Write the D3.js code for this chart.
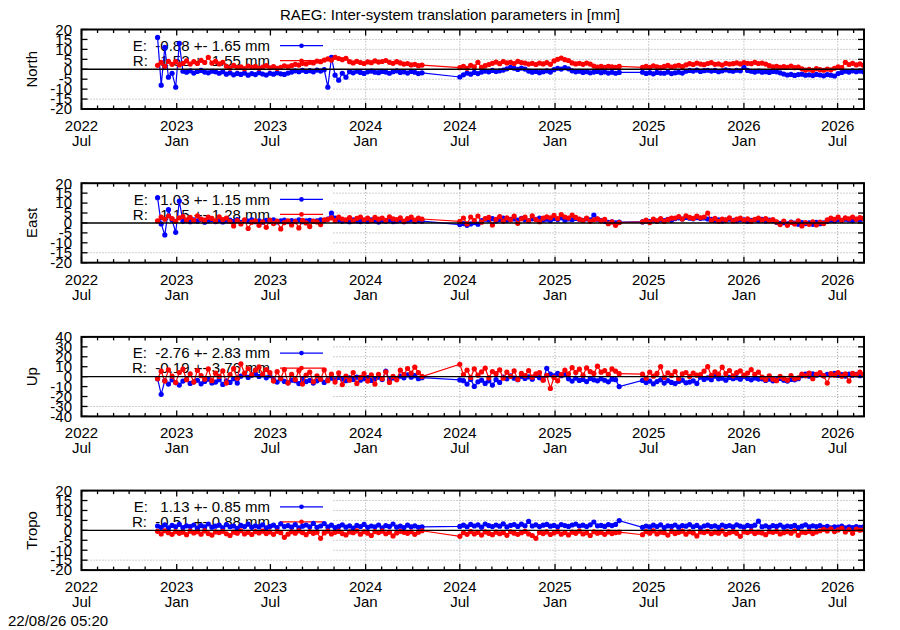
<!DOCTYPE html>
<html>
<head>
<meta charset="utf-8">
<script src="https://cdn.jsdelivr.net/npm/d3@7"></script>
<style>
body { margin: 0; background: white; }
text { font-family: "Liberation Sans", Arial, sans-serif; font-size: 15px; fill: black; }
</style>
</head>
<body>
<script>
const largeur = 900;
const hauteur = 630;

const gauche = 81.5;
const droite = 864;
const hautPanneau = 79.5;
const hautsPanneaux = [29.5, 183.2, 336.9, 490.6];
const finCle = 332;

const titre = "RAEG: Inter-system translation parameters in [mm]";
const horodatage = "22/08/26 05:20";

const composantes = ["North", "East", "Up", "Tropo"];
const bornesY = [20, 20, 40, 20];

const legendesE = ["E:  -0.88 +- 1.65 mm", "E:   1.03 +- 1.15 mm", "E:  -2.76 +- 2.83 mm", "E:   1.13 +- 0.85 mm"];
const legendesR = ["R:   1.52 +- 1.55 mm", "R:   1.15 +- 1.28 mm", "R:  -0.19 +- 3.76 mm", "R:  -0.51 +- 0.88 mm"];

const debutAxe = "2022-07-01";
const finAxe = "2026-08-21";
const datesGraduations = ["2022-07-01", "2023-01-01", "2023-07-01", "2024-01-01", "2024-07-01", "2025-01-01", "2025-07-01", "2026-01-01", "2026-07-01"];
const anneesGraduations = ["2022", "2023", "2023", "2024", "2024", "2025", "2025", "2026", "2026"];
const moisGraduations = ["Jul", "Jan", "Jul", "Jan", "Jul", "Jan", "Jul", "Jan", "Jul"];

// trois periodes de mesures hebdomadaires
const debutsSegments = ["2022-11-25", "2024-07-01", "2025-06-19"];
const semainesSegments = [74, 45, 62];

const northE = [
16, -8, 11, -4, -2, -9, 13, -1,
-1.5, -0.8, -1.9, -1.1, -0.6, -1.4, -1.8, -1.0, -1.3, -2.0, -1.2,
-2.5, -1.8, -2.8, -2.1, -2.6, -1.9, -3.0, -2.2, -2.7, -1.7, -2.4, -2.9, -2.0, -2.5, -1.8, -2.3, -2.6, -1.9,
-1.4, -0.8, -1.2, -0.5, -1.1, -0.7, -1.3, -0.4, -0.9, -0.2,
-9, 6, -3, -5.5, -2, -4,
-1.2, -1.8, -1.0, -1.6, -2.1, -1.3, -0.9, -1.5, -1.7, -1.1, -1.4, -2.0, -1.2, -0.8, -1.6, -1.3, -1.9, -1.1, -1.5, -2.2, -1.8,
-3.9, -2.8, -1.9, -2.5, -1.6, -2.2, -1.4,
-0.9, -1.3, -0.6, -1.1, -0.8, -0.4,
0.2, 1.0, 0.5, -0.1, 0.6, 0.1,
-0.9, -1.5, -1.1, -1.7, -1.2, -0.8, -1.4,
-0.2, 0.5, 0.1, 0.8, 0.2,
-0.8, -1.3, -1.0, -1.6, -1.2, -1.8, -1.4, -1.1, -1.7, -1.3, -1.9, -1.5, -2.0, -1.6,
-1.5, -2.1, -1.7, -2.3, -1.6, -1.9, -2.0, -1.4, -2.2, -1.8, -1.5, -1.9,
-1.0, -0.6, -0.9, -0.4, -1.1, -0.7, -0.5, -0.9, -0.6, -1.2, -0.8, -0.3, -0.7, -1.0, -0.5, -0.8, 1.0, -0.6,
-1.0, -1.4, -0.9, -1.5, -1.2, -1.6, -1.1, -1.3, -1.8,
-2.4, -2.9, -2.6, -3.1, -2.7, -2.5, -3.0, -2.8, -3.2, -2.6, -2.9, -3.3, -2.7, -3.0, -3.4,
-2.2, -1.6, -1.0, -1.4, -0.8, -1.2, -0.9, -1.3
];

const northR = [
2.0, 3.5, 1.5, 4.0, 2.5, 3.8, 2.2,
3.0, 4.2, 2.6, 3.8, 2.9, 4.5, 3.4, 6.0, 3.1, 4.0, 2.7, 3.5,
1.5, 0.6, 1.9, 0.8, 1.2, 0.3, 1.6, 0.9, 1.4, 0.5, 1.1, 1.8, 0.7, 1.3, 0.4, 1.0, 1.7, 1.2,
1.8, 2.5, 2.1, 3.0, 2.7, 3.5, 3.2, 4.1, 3.8, 4.6,
5.2, 4.6, 6.0, 5.4, 4.8, 5.5,
3.8, 3.2, 4.0, 3.4, 2.9, 3.7, 3.3, 4.2, 3.6, 3.9, 4.4, 3.5, 3.0, 3.8, 3.2, 2.6, 2.9, 2.2, 2.5, 1.8, 2.1,
0.8, 1.5, 0.5, 2.0, 1.2, 3.5, 0.9, 1.8, 2.4,
3.0, 3.6, 2.8, 3.9, 3.2, 3.5, 2.9, 4.0, 3.4, 3.1,
2.6, 3.0, 2.4, 3.1, 2.7, 3.3, 2.5,
4.2, 5.0, 5.6, 4.8, 4.4,
3.2, 2.7, 3.0, 2.5, 3.1, 2.6,
1.6, 1.1, 1.4, 0.9, 1.5, 1.2, 1.0, 1.4,
0.9, 1.5, 1.0, 1.7, 1.2, 0.8, 1.4, 1.9, 1.1, 1.6, 2.0, 1.3,
2.2, 2.8, 2.4, 3.1, 2.6, 2.3, 2.9, 3.3, 2.5, 2.7, 2.1, 3.0, 2.6, 2.8,
3.2, 2.7, 3.4, 3.0, 2.8, 3.5, 2.9, 3.1, 2.6,
1.8, 1.2, 1.5, 0.9, 1.3, 1.0, 1.6, 0.8, 1.1,
0.2, -0.4, 0.0, -0.6, 0.3, -0.2, -0.5, 0.1, -0.3,
0.5, 1.2, 0.8, 3.5, 2.4, 3.0, 2.2, 2.7, 2.0
];

const eastE = [
12.7, -0.5, -6, 6.7, 1.5, -4.7, 11, 0.8,
1.2, 0.6, 1.5, 0.9, 1.8, 0.4, 1.1, 1.6, 0.7, 1.3, 0.5, 1.0, 1.4, 0.8, 1.7, 0.3, 1.2, 0.9, 1.5, 0.6,
1.1, 0.4, 1.3, 0.8, 1.6, 0.5, 1.0, 1.4, 0.7, 1.2, 0.9, 1.5, 0.6, 1.1, 1.3, 0.8, 1.0, 1.6, 1.2,
2.0, 5.0, 2.5,
1.4, 0.9, 1.2, 0.6, 1.5, 1.0, 0.7, 1.3, 0.8, 1.6, 1.1, 0.5, 1.2, 0.9, 1.4, 0.7, 1.0, 1.3, 0.6, 1.1, 1.5, 0.8, 1.2, 0.9,
-0.8, -0.3, -1.2, -0.5, 0.2, -0.6,
1.2, 1.9, 1.5, 2.2, 1.0, 1.7, 2.4, 1.3, 1.8, 2.0, 1.4, 2.3, 1.6, 1.1, 2.1, 1.8, 2.5, 1.5, 1.9, 1.2,
2.2, 1.7, 2.6, 1.4, 2.0, 1.6, 2.3, 1.8, 1.3, 2.1, 1.5, 4.0, 1.9, 1.2, 0.8, 0.3, 0.6, 0.1, 0.4,
0.5, 1.0, 0.7, 1.4, 0.9, 1.6, 1.2, 1.8, 1.3,
2.2, 2.6, 2.0, 2.8, 2.4, 2.1, 2.7, 2.3, 2.5, 2.0,
1.8, 1.2, 1.6, 1.0, 1.4, 1.9, 1.3, 1.1, 1.7, 1.5, 0.9, 1.3, 1.6, 1.2, 1.8, 1.0, 1.4, 1.1,
0.3, -0.2, 0.1, -0.5, 0.4, -0.1, -0.6, 0.2, -0.3, 0.0, -0.7, 0.3, -0.4, 0.1,
0.8, 1.4, 1.1, 1.7, 1.3, 1.9, 1.5, 1.2, 1.8, 1.6, 2.0
];

const eastR = [
1.0, 3.0, 1.8, 3.5, 2.2, 0.8, 2.6, 3.2, 1.5, 2.8, 1.2, 3.6, 2.0, 1.4, 2.9, 2.3, 1.1, 3.1, 1.7, 2.5,
0.8, -1.5, 1.2, -0.5, 1.6, -2.8, 0.4, 1.0, -1.2, 0.6, -2.2, 1.4, -0.3, 0.9, -3.0, 0.2, 1.1, -1.0, 0.7, -2.5,
1.3, 0.0, -1.8, 0.9, 0.5, -0.8, 1.5,
1.8, 2.6, 1.2, 2.9, 2.0, 1.5, 2.7, 1.0, 2.3, 3.0, 1.6, 2.4, 1.1, 2.8, 1.9, 2.5, 1.3, 3.1, 2.1, 1.7,
2.6, 0.9, 2.2, 2.9, 1.4, 2.4, 2.0,
0.8, 2.5, -0.5, 3.0, 1.2, 3.5, 0.4, 2.2, 2.8, -1.0, 1.8, 3.2, 0.9, 2.6, 1.5, 3.4, -0.2, 2.1, 2.9, 1.1,
3.6, 1.7, 0.6, 2.4, 3.1,
2.6, 3.8, 2.2, 4.2, 3.0, 2.5, 3.9, 2.8,
1.9, 1.2, 2.4, 0.8, 1.6, 2.1, 1.0, 1.8,
-0.4, 0.5, -1.2, 0.2,
0.6, 1.4, 0.2, 1.9, 1.0, 2.2, 0.8, 1.7, 2.4,
2.5, 3.2, 2.0, 3.6, 2.8, 2.3, 3.4, 2.6, 3.0,
5.0,
1.2, 2.3, 0.8, 2.0, 1.5, 2.6, 1.0, 1.9, 2.4, 1.3, 2.1, 0.9, 1.8, 2.5, 1.4, 2.2, 1.1, 1.7,
0.5, -0.8, 0.9, -1.2, 0.3, -0.5, 1.0, -1.5, 0.2, -0.7, 0.6, -1.0, 0.4, -0.3,
1.5, 2.4, 1.8, 2.9, 1.3, 2.6, 2.1, 3.0, 1.9, 2.7, 2.3
];

const upE = [
-2, -17.8,
-4.0, -7.5, -3.2, -6.0, -8.5, -4.5, -2.8, -6.8, -5.2, -3.6, -7.2, -4.8, -2.5, -6.3, -5.5, -3.0, -7.8, -4.2, -5.8, -2.2, -6.5,
0.5, 2.2, -0.8, 1.5, 3.0, 0.2, 1.8, -1.2, 0.9,
-3.0, -5.5, -2.2, -4.8, -6.2, -3.5, -4.0, -7.0, -2.8, -5.0, -3.8, -6.5, -4.2, -2.5, -5.8, -3.2,
-1.5, -3.2, -0.8, -2.5, -4.0, -1.2, -2.8, -0.5, -3.5, -2.0, -1.0, -3.8, -2.2, -0.6, -2.9, 5.7, -3.0, -1.3, -2.4,
0.5, -1.2, 1.8, -0.5, 1.0, -2.0, -1.0,
-3.3,
-4.0, -7.5, -2.8, -9.8, -5.2, -3.5, -6.8, -4.2, -8.5, -3.0, -5.8,
-0.5, -2.2, 0.8, -1.5, -3.0, 0.2, -1.8, -0.2, -2.5, 1.2, -1.0, -3.2, 8.4,
2.5, 0.8, 3.2, 1.0, 2.0,
-2.2, -4.5, -1.5, -3.8, -2.8, -5.0, -1.8, -3.2, -4.2, -2.0, -3.6, -5.2, -2.5, -3.0, -10.0,
-3.8, -6.0, -4.5, -7.2, -5.0, -3.2, -6.5, -4.0, -5.8, -7.0, -4.8, -3.5, -6.2, -5.5, -4.2, -6.8,
-0.5, -2.8, -1.2, -3.0, 0.5, -2.2, -1.5, -3.5, -0.8, -2.0, -1.0, -2.6, 0.2, -1.8, -3.2, -1.4, -2.4,
-2.2, -3.8, -2.5, -4.2, -3.0, -1.8, -3.5, -4.5, -2.8, -3.2, -2.0,
1.0, 2.5, 0.5, 2.8, 1.5, 3.0, 0.8, 2.2, 1.8, 3.2, 1.2, 2.0, 0.6, 2.6, 1.4, 2.4, 1.0, 1.8
];

const upR = [
-2.0, 5.5, -4.5, 6.8, 0.5, -6.0, 4.2, 7.5, -3.0, 2.8, -5.5, 6.2, 1.0, -2.5, 7.8, -4.0, 3.5, 0.2, 5.8, -6.5,
2.0, 8.0, -1.5,
13.0, 3.5, 8.2, 1.8, 6.5, 9.8, 2.5, 7.0, 4.0,
-4.5, 5.0, -1.8, 7.2, -6.5, 2.2, -3.0, 6.0, -7.5, 1.5, 4.5, -5.2, 0.8, -2.5, 6.8, -4.0,
2.5, -5.5, 3.8, -8.0, 0.5, -3.5, 4.2, -6.8, -0.8, 3.0, -4.5, 1.8, -7.5, 2.2, -2.0, 4.8, -5.8, 0.2, -3.2,
6.5, 2.0, 8.2, 3.5, 9.5, 4.0, 0.2,
12.5,
2.0, 6.5, -0.8, 7.8, 1.5, 4.8, 8.5, -1.2, 5.2, 3.0, 6.8,
-1.5, 4.5, 0.2, 5.8, -2.8, 3.2, 1.0, 6.0, -0.5, 2.8, 4.0,
-3.5, 1.2, -11.8, -0.8, -4.2, 2.0,
6.5, 2.8, 9.0, 4.2, 7.5, 1.5, 8.8, 5.0, 3.2, 10.5, 4.5, 6.0, 2.2, 7.8, 5.5, 3.0,
2.5, -1.5, 4.5, 0.5, 3.2, 10.0, -0.8, 3.8, 1.2, 5.0, -2.0, 2.8, 4.2, 0.2, 3.5, 1.5,
2.0, 5.5, 10.0, 1.2, 4.8, 2.5, 9.5, 3.0, 6.2, 0.8, 4.0, 5.8, 1.5, 3.6, 7.0, 2.2, 4.5,
-0.5, -3.0, 0.8, -2.5, -4.0, 0.2, -1.8, -3.5, 1.0, -2.2, -1.2,
2.5, 0.8, 3.5, -2.0, 2.2, 4.0, 1.0, -6.5, 3.0, 1.5, 4.2, 0.5, 2.8, -4.5, 3.2, 1.8, 4.5, 2.0
];

const tropoE = [
2.2, 1.5, 2.8, 1.2, 2.5, 1.8, 3.0, 1.4, 2.3, 1.9,
2.7, 1.1, 2.4, 1.7, 3.2, 1.6, 2.1, 2.6, 1.3, 2.9,
1.8, 2.2, 1.0, 2.5, 1.9, 3.1, 1.5, 2.3, 1.7, 2.8,
1.2, 2.0, 2.6, 1.4, 3.3, 1.9, 2.4, 1.6, 2.9, 1.3,
2.1, 2.7, 1.8, 3.5, 1.5, 2.2, 3.4, 1.7, 2.6, 1.4,
2.0, 2.8, 1.6, 2.3, 1.1, 2.5, 1.9, 3.0, 1.5, 2.2,
1.8, 2.7, 1.3, 2.4, 1.9, 3.2, 1.6, 2.1, 1.4, 2.6,
1.8, 2.3, 1.5, 1.7,
2.0, 2.6, 1.8, 3.0, 2.2, 2.8, 1.6, 3.2, 2.4, 1.9,
2.7, 2.1, 3.3, 1.7, 2.5, 2.9, 2.0, 3.1, 2.3, 4.5,
2.2, 2.8, 1.9, 2.6, 3.0, 2.1, 2.5, 1.8, 2.9, 2.4,
2.0, 2.7, 3.2, 2.2, 2.6, 1.9, 2.8, 4.2, 2.3, 2.5,
2.0, 2.9, 2.4, 3.0, 4.9,
1.5, 2.2, 1.7, 2.6, 1.9, 2.8, 1.4, 2.3, 2.0, 2.7,
1.6, 2.4, 2.1, 2.9, 1.8, 2.5, 1.3, 2.2, 2.6, 1.9,
2.3, 1.5, 2.7, 2.0, 2.4, 1.7, 2.8, 2.1, 1.6, 2.5,
2.0, 2.6, 4.6, 1.8, 2.3, 1.5, 2.4, 2.0, 2.7, 1.6,
2.2, 1.9, 2.5, 1.4, 2.1, 2.8, 1.7, 2.3, 1.9, 2.4,
1.5, 2.0, 1.3, 1.8, 1.6, 2.1, 1.2, 1.7, 1.4, 1.9,
1.5, 1.8
];

const tropoR = [
-0.5, -1.8, -0.2, -1.2, -2.0, -0.6, -1.5, -0.9, -2.2, -0.4,
-1.3, -0.7, -1.9, -0.3, -1.6, -2.4, -0.8, -1.1, -0.5, -1.7,
-2.6, -0.9, -1.4, -0.2, -1.8, -1.0, -2.1, -0.6, -1.3, -0.4,
-1.6, -0.8, -2.0, -0.5, -1.2, -3.5, -1.9, -0.7, -1.4, -0.3,
-1.1, -2.2, -0.6, -1.5, -0.9, -4.0, -1.3, -0.4, -1.8, -1.0,
-0.5, -1.6, -2.3, -0.8, -1.2, -0.3, -1.9, -0.7, -1.4, -2.6,
-0.6, -1.1, -0.4, -1.7, -0.9, -2.8, -1.3, -0.5, -1.0, -1.5,
-0.7, -2.0, -0.9, -0.2,
-3.0, -1.2, -2.0, -0.6, -1.8, -1.0, -2.4, -0.8, -1.5, -2.2,
-0.9, -1.7, -1.1, -2.5, -0.7, -1.4, -2.0, -1.2, -0.5, -1.8,
-2.6, -4.0, -1.0, -1.6, -0.8, -2.1, -1.3, -0.6, -1.9, -1.1,
-2.3, -0.9, -1.5, -0.4, -1.8, -1.2, -2.6, -0.7, -1.4, -1.0,
-2.0, -0.8, -1.6, -1.1, -0.9,
-2.2, -0.6, -1.4, -0.3, -1.8, -0.9, -1.2, -2.4, -0.5, -1.6,
-1.0, -0.4, -1.9, -0.7, -1.3, -2.8, -0.8, -1.1, -0.5, -1.7,
-0.9, -1.4, -0.3, -2.0, -1.2, -0.6, -1.5, -3.0, -0.8, -1.1,
-0.4, -1.6, -0.9, -1.3, -2.2, -0.7, -1.0, -0.5, -1.8, -1.2,
-0.6, -1.4, -0.3, -2.5, -0.9, -1.1, -0.5, -1.6, -0.8, -0.2,
0.5, -0.3, 0.8, -0.6, 0.2, 1.0, -0.8, 0.4, -1.5, 0.6,
0.1, 0.3
];

const seriesE = [northE, eastE, upE, tropoE];
const seriesR = [northR, eastR, upR, tropoR];

const bleu = "#0000ff";
const rouge = "#ff0000";

const lireDate = d3.timeParse("%Y-%m-%d");

const dates = [];
debutsSegments.forEach(function(debut, s)
{
    const d0 = lireDate(debut);
    for(let i = 0; i < semainesSegments[s]; i++)
    {
        dates.push(d3.timeDay.offset(d0, 7 * i));
    }
});

const svg = d3
.select("body")
.append("svg")
.attr("width", largeur)
.attr("height", hauteur)
.style("background", "white");

const x = d3.scaleTime()
.domain([lireDate(debutAxe), lireDate(finAxe)])
.range([gauche, droite]);

const graduations = datesGraduations.map(lireDate);
const graduationsMineures = d3.timeMonth.range(lireDate(debutAxe), lireDate(finAxe));

svg.append("text")
.attr("x", largeur / 2)
.attr("y", 20)
.attr("text-anchor", "middle")
.text(titre);

svg.append("text")
.attr("x", 8)
.attr("y", 626)
.text(horodatage);

composantes.forEach(function(nom, p)
{
    dessinerPanneau(nom, p);
});

function dessinerPanneau(nom, p)
{
    const haut = hautsPanneaux[p];
    const bas = haut + hautPanneau;
    const borne = bornesY[p];

    const y = d3.scaleLinear()
    .domain([-borne, borne])
    .range([bas, haut]);

    const valeursY = y.ticks(8);

    const g = svg.append("g");

    g.append("clipPath")
    .attr("id", "clip" + p)
    .append("rect")
    .attr("x", gauche)
    .attr("y", haut)
    .attr("width", droite - gauche)
    .attr("height", hautPanneau);

    // grille pointillee
    g.selectAll(".grilleY")
    .data(valeursY.filter(function(v) { return Math.abs(v) != borne && v != 0; }))
    .enter()
    .append("line")
    .attr("x1", gauche)
    .attr("x2", droite)
    .attr("y1", function(v) { return y(v); })
    .attr("y2", function(v) { return y(v); })
    .attr("stroke", "#a0a0a0")
    .attr("stroke-width", 1)
    .attr("stroke-dasharray", "1,2");

    g.selectAll(".grilleX")
    .data(graduations.filter(function(d) { return x(d) > finCle && x(d) < droite - 2; }))
    .enter()
    .append("line")
    .attr("x1", function(d) { return x(d); })
    .attr("x2", function(d) { return x(d); })
    .attr("y1", haut)
    .attr("y2", bas)
    .attr("stroke", "#a0a0a0")
    .attr("stroke-width", 1)
    .attr("stroke-dasharray", "1,2");

    // cadre opaque de la legende
    g.append("rect")
    .attr("x", gauche + 1)
    .attr("y", haut + 1)
    .attr("width", finCle - gauche - 1)
    .attr("height", 63)
    .attr("fill", "white");

    const lignesCle = [
        { texte: legendesE[p], couleur: bleu, dy: 16.2 },
        { texte: legendesR[p], couleur: rouge, dy: 31.2 }
    ];

    lignesCle.forEach(function(c)
    {
        g.append("text")
        .attr("x", 270)
        .attr("y", haut + c.dy + 5.2)
        .attr("text-anchor", "end")
        .style("white-space", "pre")
        .text(c.texte);

        g.append("line")
        .attr("x1", 280)
        .attr("x2", 323)
        .attr("y1", haut + c.dy)
        .attr("y2", haut + c.dy)
        .attr("stroke", c.couleur)
        .attr("stroke-width", 1.2);

        g.append("circle")
        .attr("cx", 301.5)
        .attr("cy", haut + c.dy)
        .attr("r", 2.3)
        .attr("fill", c.couleur);
    });

    const donnees = g.append("g").attr("clip-path", "url(#clip" + p + ")");

    [[seriesE[p], bleu], [seriesR[p], rouge]].forEach(function(s)
    {
        const valeurs = s[0];
        const ligne = d3.line()
        .x(function(v, i) { return x(dates[i]); })
        .y(function(v) { return y(v); });

        donnees.append("path")
        .datum(valeurs)
        .attr("d", ligne)
        .attr("fill", "none")
        .attr("stroke", s[1])
        .attr("stroke-width", 1.2);

        donnees.selectAll(null)
        .data(valeurs)
        .enter()
        .append("circle")
        .attr("cx", function(v, i) { return x(dates[i]); })
        .attr("cy", function(v) { return y(v); })
        .attr("r", 2.6)
        .attr("fill", s[1]);
    });

    // axe zero
    g.append("line")
    .attr("x1", gauche)
    .attr("x2", droite)
    .attr("y1", y(0))
    .attr("y2", y(0))
    .attr("stroke", "black")
    .attr("stroke-width", 1.4);

    // graduations x (haut et bas)
    graduationsMineures.forEach(function(d)
    {
        const majeure = graduations.some(function(m) { return +m == +d; });
        const longueur = majeure ? 6 : 3.5;
        g.append("line")
        .attr("x1", x(d)).attr("x2", x(d))
        .attr("y1", bas).attr("y2", bas - longueur)
        .attr("stroke", "black").attr("stroke-width", 1.3);
        g.append("line")
        .attr("x1", x(d)).attr("x2", x(d))
        .attr("y1", haut).attr("y2", haut + longueur)
        .attr("stroke", "black").attr("stroke-width", 1.3);
    });

    // graduations y (gauche et droite)
    valeursY.forEach(function(v)
    {
        g.append("line")
        .attr("x1", gauche).attr("x2", gauche + 6)
        .attr("y1", y(v)).attr("y2", y(v))
        .attr("stroke", "black").attr("stroke-width", 1.3);
        g.append("line")
        .attr("x1", droite).attr("x2", droite - 6)
        .attr("y1", y(v)).attr("y2", y(v))
        .attr("stroke", "black").attr("stroke-width", 1.3);
    });

    g.append("rect")
    .attr("x", gauche)
    .attr("y", haut)
    .attr("width", droite - gauche)
    .attr("height", hautPanneau)
    .attr("fill", "none")
    .attr("stroke", "black")
    .attr("stroke-width", 2);

    g.selectAll(".etiquetteY")
    .data(valeursY)
    .enter()
    .append("text")
    .attr("x", 72)
    .attr("y", function(v) { return y(v) + 5.3; })
    .attr("text-anchor", "end")
    .text(function(v) { return v; });

    graduations.forEach(function(d, i)
    {
        g.append("text")
        .attr("x", x(d))
        .attr("y", bas + 22)
        .attr("text-anchor", "middle")
        .text(anneesGraduations[i]);

        g.append("text")
        .attr("x", x(d))
        .attr("y", bas + 37)
        .attr("text-anchor", "middle")
        .text(moisGraduations[i]);
    });

    g.append("text")
    .attr("transform", "translate(37," + (haut + hautPanneau / 2) + ") rotate(-90)")
    .attr("text-anchor", "middle")
    .text(nom);
}
</script>
</body>
</html>
